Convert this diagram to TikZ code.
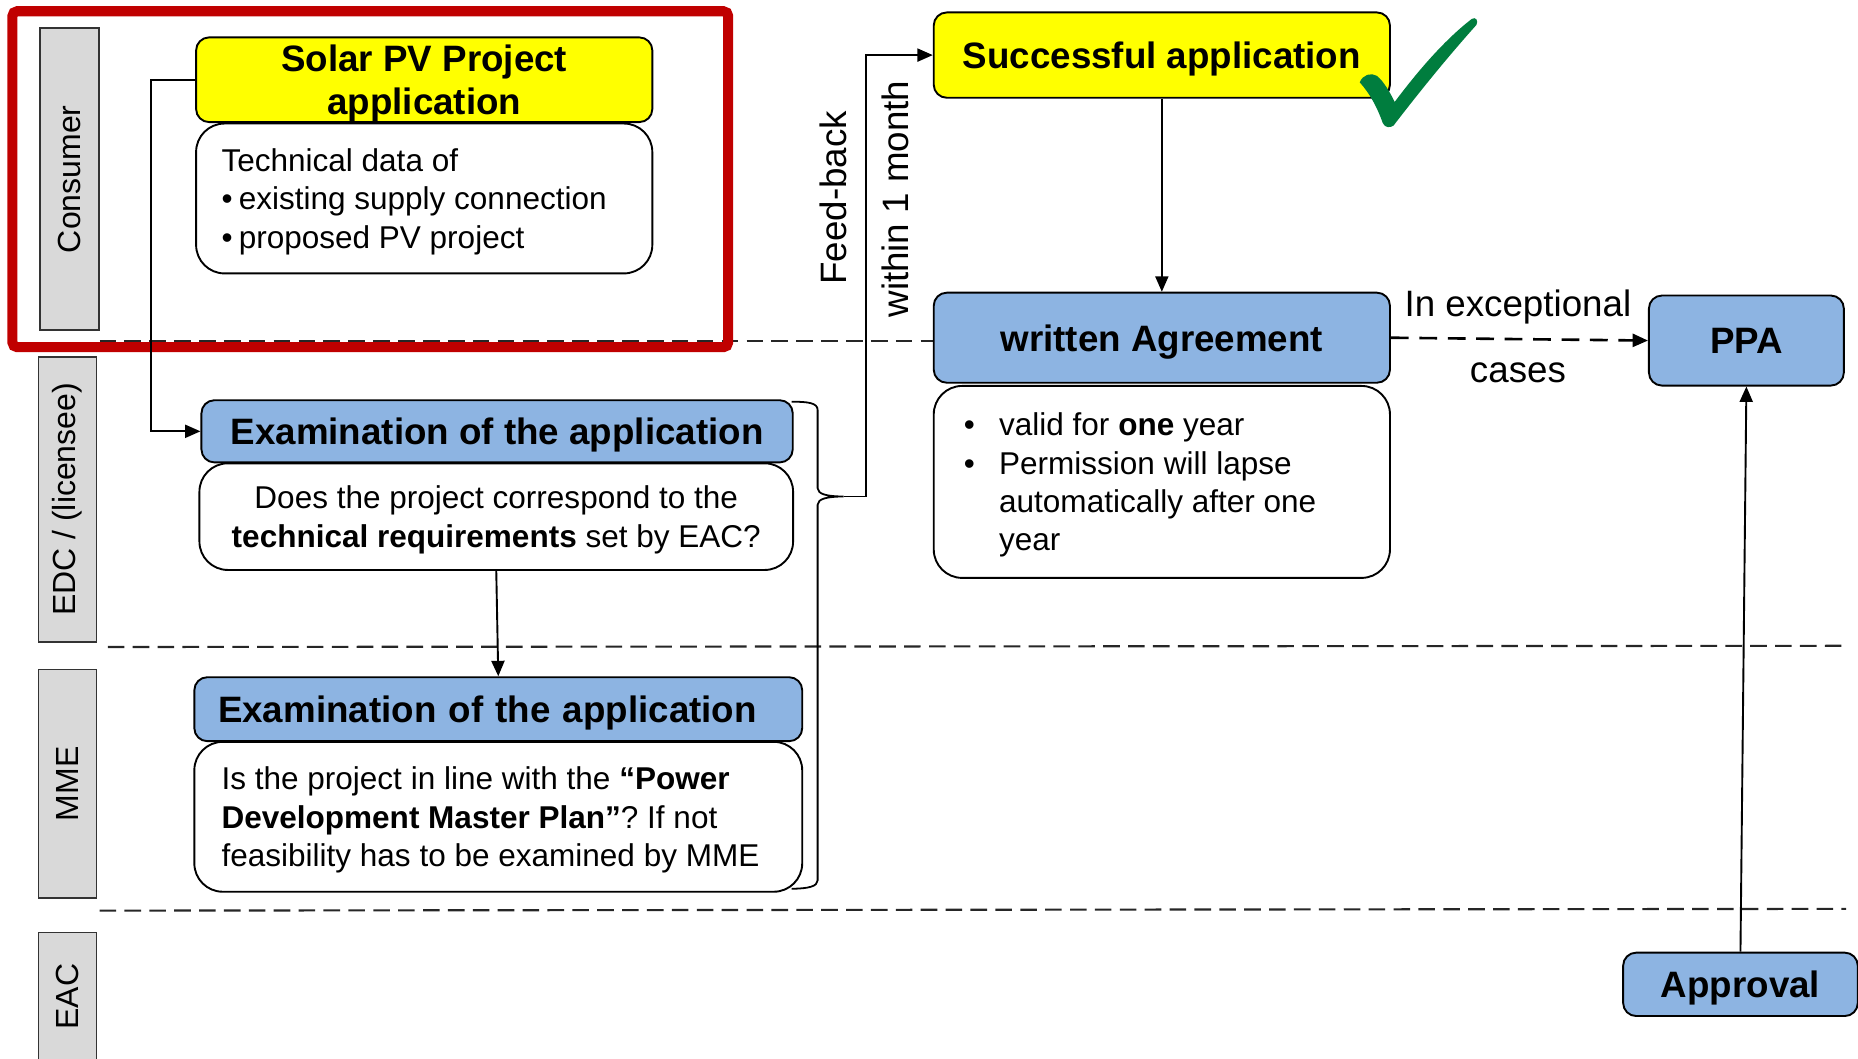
\documentclass[tikz,border=0pt]{standalone}
\usepackage{fontspec}
\setmainfont{Liberation Sans}
\usetikzlibrary{arrows.meta}
\definecolor{boxblue}{HTML}{8DB4E2}
\definecolor{boxyellow}{HTML}{FFFF00}
\definecolor{lanegray}{HTML}{D9D9D9}
\definecolor{redframe}{HTML}{C00000}
\definecolor{checkgreen}{HTML}{007D3E}
\newcommand{\hdrfont}{\bfseries\fontsize{31}{37}\selectfont}
\newcommand{\bodyfont}{\frenchspacing\fontsize{26.6}{32.3}\selectfont}
\newcommand{\lanefont}{\fontsize{27}{32}\selectfont}
\newcommand{\lblfont}{\fontsize{31}{37}\selectfont}
\tikzset{
  hdrbox/.style={draw, line width=1.6pt, rounded corners=11pt, font=\hdrfont, inner sep=0pt, align=center, text depth=0pt},
  bluebox/.style={hdrbox, fill=boxblue},
  yellowbox/.style={hdrbox, fill=boxyellow},
  textbox/.style={draw, line width=1.6pt, rounded corners=24pt, fill=white, font=\bodyfont, inner xsep=0pt, inner ysep=0pt, text depth=0pt},
  lanebox/.style={draw=black!80, fill=lanegray, line width=1.5pt, font=\lanefont, rotate=90, inner sep=0pt},
  lanesep/.style={dashed, dash pattern=on 14pt off 7pt, line width=1.8pt, black!85},
  arr/.style={line width=1.6pt, -{Triangle[length=13pt,width=11pt]}},
  dasharr/.style={line width=2.2pt, dash pattern=on 15pt off 9pt, -{Triangle[length=13pt,width=11pt]}},
  lbl/.style={font=\lblfont, inner sep=0pt},
}
\begin{document}
\begin{tikzpicture}[x=1pt,y=-1pt]
\useasboundingbox (0,0) rectangle (1568,893);
\clip (0,0) rectangle (1568,893);

% lane separators
\draw[lanesep] (84,287.5) -- (788,287.5);
\draw[lanesep] (91,546) -- (1559,545);
\draw[lanesep] (84,768.5) -- (1558,767);

% lane labels
\node[lanebox, minimum width=255pt, minimum height=49.5pt] (lcons) at (58.7,151.3) {Consumer};
\node[lanebox, minimum width=241pt, minimum height=49pt] (ledc) at (57,421.5) {EDC / (licensee)};
\node[lanebox, minimum width=193pt, minimum height=49pt] (lmme) at (57,661.5) {MME};
\node[lanebox, minimum width=140pt, minimum height=49pt] (leac) at (57,857) {};
\node[font=\lanefont, rotate=90, inner sep=0pt] (leactxt) at (57,841) {EAC};

% red highlight frame
\draw[redframe, line width=8.5pt, rounded corners=4pt] (10.5,9.5) rectangle (614.5,293);

% consumer lane
\node[yellowbox, minimum width=385pt, minimum height=71.5pt] (solar) at (358,67.3) {Solar PV Project\\application};
\node[textbox, minimum width=385pt, minimum height=126.5pt, align=left] (techdata) at (358,167.5)
  {\makebox[342pt][l]{Technical data of}\\\makebox[14.5pt][l]{•}existing supply connection\\\makebox[14.5pt][l]{•}proposed PV project};

% EDC lane
\node[bluebox, minimum width=499pt, minimum height=52.5pt] (exam1) at (419.5,364) {Examination of the application};
\node[textbox, minimum width=501pt, minimum height=90pt, align=center] (does) at (418.8,436)
  {Does the project correspond to the\\\textbf{technical requirements} set by EAC?};

% MME lane
\node[bluebox, minimum width=513pt, minimum height=54pt, text width=473pt, align=left] (exam2) at (420.5,598.5) {Examination of the application};
\node[textbox, minimum width=513pt, minimum height=126.5pt, align=left] (inline) at (420.5,689.3)
  {\makebox[467pt][l]{Is the project in line with the \textbf{“Power}}\\\textbf{Development Master Plan”}? If not\\feasibility has to be examined by MME};

% right column
\node[yellowbox, minimum width=385pt, minimum height=72pt] (succ) at (980.5,46.5) {Successful application};
\node[bluebox, minimum width=385pt, minimum height=76pt] (agree) at (980.5,285) {written Agreement};
\node[textbox, minimum width=385pt, minimum height=162pt, align=left] (valid) at (980.5,406.7)
  {\makebox[334pt][l]{\makebox[29.7pt][l]{•}valid for \textbf{one} year}\\\makebox[29.7pt][l]{•}Permission will lapse\\\hspace*{29.7pt}automatically after one\\\hspace*{29.7pt}year};
\node[bluebox, minimum width=164.5pt, minimum height=76pt] (ppa) at (1473.8,287.4) {PPA};
\node[bluebox, minimum width=198pt, minimum height=53.5pt] (approval) at (1468.8,830.7) {Approval};

% check mark
\fill[checkgreen] (1147.5,69.5) .. controls (1150,63) and (1157,61) .. (1162,64)
  .. controls (1168,69) and (1173,78) .. (1177,86)
  .. controls (1198,58) and (1220,33) .. (1242,16)
  .. controls (1245,14) and (1248,17) .. (1246,21)
  .. controls (1220,50) and (1196,80) .. (1176,106)
  .. controls (1173,108) and (1169,108) .. (1167,104)
  .. controls (1162,90) and (1156,79) .. (1147.5,69.5) -- cycle;

% brace
\coordinate (bracetip) at (712,419);
\draw[line width=1.5pt] (668,339) .. controls (682,339) and (690,340) .. (690,346)
  -- (690,412) .. controls (690,417) and (698,419) .. (bracetip)
  .. controls (698,419) and (690,421) .. (690,426)
  -- (690,743) .. controls (690,748) and (682,750) .. (668,750);

% connectors
\draw[arr] (solar.west) -- ++(-37,0) |- (exam1.west);
\draw[arr] (bracetip) -- (731,419) |- (succ.west);
\draw[arr] (does.south) -- (exam2.north);
\draw[arr] (succ.south) -- (agree.north);
\draw[dasharr] (agree.east) -- (ppa.west);
\draw[arr] (approval.north) -- (ppa.south);

% labels
\node[lbl, rotate=90] (fb) at (703,167) {Feed-back};
\node[lbl, rotate=90] (w1m) at (756,168) {within 1 month};
\node[lbl] (exc1) at (1281,259) {In exceptional};
\node[lbl] (exc2) at (1281,315) {cases};
\end{tikzpicture}
\end{document}
